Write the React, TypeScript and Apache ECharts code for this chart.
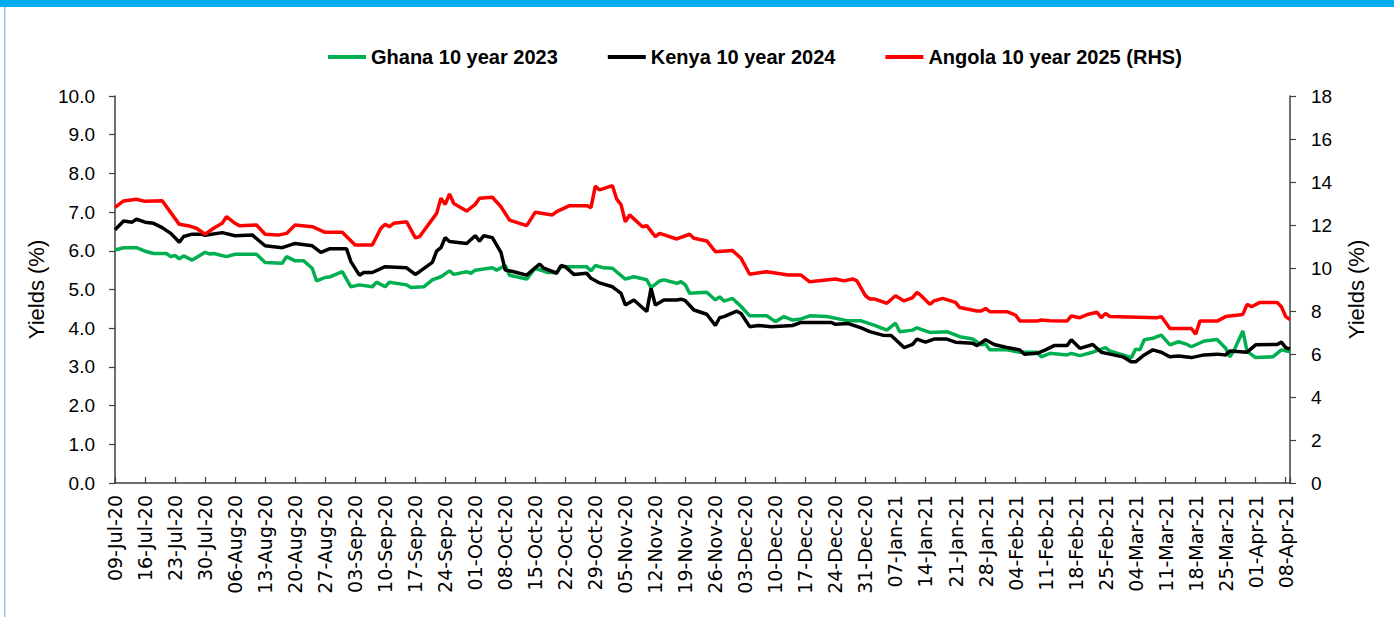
import React, { useEffect, useRef } from "react";
import * as echarts from "echarts";

const START = "2020-07-09";
const AXIS_DAYS = 274;
const MONTHS = ["Jan", "Feb", "Mar", "Apr", "May", "Jun", "Jul", "Aug", "Sep", "Oct", "Nov", "Dec"];

const legendNames = ["Ghana 10 year 2023", "Kenya 10 year 2024", "Angola 10 year 2025 (RHS)"];
const leftTicks = { min: 0, max: 10, interval: 1 };
const rightTicks = { min: 0, max: 18, interval: 2 };

const ghana: [string, number][] = [
  ["2020-07-09", 6.02], ["2020-07-11", 6.08], ["2020-07-14", 6.08], ["2020-07-16", 5.99], ["2020-07-18", 5.93],
  ["2020-07-21", 5.93], ["2020-07-22", 5.85], ["2020-07-23", 5.88], ["2020-07-24", 5.79], ["2020-07-25", 5.87],
  ["2020-07-27", 5.76], ["2020-07-30", 5.96], ["2020-07-31", 5.92], ["2020-08-01", 5.93], ["2020-08-04", 5.85],
  ["2020-08-06", 5.91], ["2020-08-11", 5.91], ["2020-08-13", 5.70], ["2020-08-17", 5.68], ["2020-08-18", 5.85],
  ["2020-08-20", 5.74], ["2020-08-22", 5.74], ["2020-08-24", 5.55], ["2020-08-25", 5.22], ["2020-08-27", 5.31],
  ["2020-08-28", 5.32], ["2020-08-31", 5.46], ["2020-09-02", 5.07], ["2020-09-04", 5.12], ["2020-09-07", 5.07],
  ["2020-09-08", 5.19], ["2020-09-10", 5.07], ["2020-09-11", 5.19], ["2020-09-15", 5.12], ["2020-09-16", 5.05],
  ["2020-09-19", 5.07], ["2020-09-21", 5.25], ["2020-09-23", 5.33], ["2020-09-25", 5.48], ["2020-09-26", 5.39],
  ["2020-09-29", 5.46], ["2020-09-30", 5.42], ["2020-10-01", 5.50], ["2020-10-05", 5.56], ["2020-10-06", 5.50],
  ["2020-10-08", 5.62], ["2020-10-09", 5.37], ["2020-10-13", 5.27], ["2020-10-15", 5.55], ["2020-10-18", 5.44],
  ["2020-10-20", 5.44], ["2020-10-21", 5.59], ["2020-10-27", 5.59], ["2020-10-28", 5.48], ["2020-10-29", 5.62],
  ["2020-10-31", 5.56], ["2020-11-02", 5.55], ["2020-11-05", 5.27], ["2020-11-07", 5.33], ["2020-11-10", 5.25],
  ["2020-11-11", 5.05], ["2020-11-13", 5.22], ["2020-11-14", 5.25], ["2020-11-17", 5.16], ["2020-11-18", 5.20],
  ["2020-11-19", 5.12], ["2020-11-20", 4.90], ["2020-11-24", 4.93], ["2020-11-26", 4.73], ["2020-11-27", 4.81],
  ["2020-11-28", 4.70], ["2020-11-30", 4.77], ["2020-12-02", 4.56], ["2020-12-04", 4.32], ["2020-12-08", 4.32],
  ["2020-12-10", 4.17], ["2020-12-12", 4.30], ["2020-12-14", 4.21], ["2020-12-16", 4.24], ["2020-12-18", 4.32],
  ["2020-12-22", 4.30], ["2020-12-27", 4.19], ["2020-12-30", 4.19], ["2021-01-02", 4.08], ["2021-01-05", 3.95],
  ["2021-01-07", 4.13], ["2021-01-08", 3.91], ["2021-01-11", 3.95], ["2021-01-12", 4.01], ["2021-01-15", 3.89],
  ["2021-01-19", 3.91], ["2021-01-22", 3.78], ["2021-01-25", 3.72], ["2021-01-27", 3.57], ["2021-01-28", 3.59],
  ["2021-01-29", 3.44], ["2021-02-02", 3.44], ["2021-02-05", 3.38], ["2021-02-09", 3.38], ["2021-02-10", 3.26],
  ["2021-02-12", 3.35], ["2021-02-16", 3.31], ["2021-02-17", 3.35], ["2021-02-19", 3.29], ["2021-02-22", 3.38],
  ["2021-02-25", 3.50], ["2021-02-26", 3.41], ["2021-03-01", 3.31], ["2021-03-03", 3.24], ["2021-03-04", 3.46],
  ["2021-03-05", 3.44], ["2021-03-06", 3.70], ["2021-03-08", 3.74], ["2021-03-10", 3.82], ["2021-03-12", 3.57],
  ["2021-03-14", 3.65], ["2021-03-16", 3.58], ["2021-03-17", 3.52], ["2021-03-20", 3.67], ["2021-03-23", 3.71],
  ["2021-03-25", 3.48], ["2021-03-26", 3.26], ["2021-03-27", 3.44], ["2021-03-29", 3.93], ["2021-03-30", 3.40],
  ["2021-04-01", 3.24], ["2021-04-05", 3.26], ["2021-04-07", 3.44], ["2021-04-09", 3.39],
];

const kenya: [string, number][] = [
  ["2020-07-09", 6.54], ["2020-07-11", 6.77], ["2020-07-13", 6.74], ["2020-07-14", 6.82], ["2020-07-16", 6.74],
  ["2020-07-18", 6.71], ["2020-07-20", 6.60], ["2020-07-22", 6.45], ["2020-07-24", 6.22], ["2020-07-25", 6.37],
  ["2020-07-27", 6.43], ["2020-07-29", 6.43], ["2020-07-30", 6.40], ["2020-08-03", 6.47], ["2020-08-06", 6.39],
  ["2020-08-10", 6.41], ["2020-08-13", 6.13], ["2020-08-17", 6.08], ["2020-08-20", 6.19], ["2020-08-24", 6.13],
  ["2020-08-26", 5.96], ["2020-08-28", 6.05], ["2020-09-01", 6.05], ["2020-09-02", 5.72], ["2020-09-04", 5.37],
  ["2020-09-05", 5.44], ["2020-09-07", 5.44], ["2020-09-10", 5.59], ["2020-09-15", 5.56], ["2020-09-17", 5.39],
  ["2020-09-18", 5.46], ["2020-09-21", 5.70], ["2020-09-22", 5.99], ["2020-09-23", 6.08], ["2020-09-24", 6.34],
  ["2020-09-25", 6.24], ["2020-09-29", 6.19], ["2020-10-01", 6.39], ["2020-10-02", 6.25], ["2020-10-03", 6.39],
  ["2020-10-05", 6.34], ["2020-10-07", 5.96], ["2020-10-08", 5.50], ["2020-10-10", 5.46], ["2020-10-13", 5.37],
  ["2020-10-16", 5.66], ["2020-10-17", 5.55], ["2020-10-20", 5.42], ["2020-10-21", 5.62], ["2020-10-22", 5.59],
  ["2020-10-24", 5.39], ["2020-10-27", 5.42], ["2020-10-28", 5.29], ["2020-10-30", 5.17], ["2020-11-02", 5.07],
  ["2020-11-04", 4.90], ["2020-11-05", 4.60], ["2020-11-07", 4.73], ["2020-11-10", 4.43], ["2020-11-11", 5.03],
  ["2020-11-12", 4.60], ["2020-11-14", 4.73], ["2020-11-17", 4.73], ["2020-11-18", 4.75], ["2020-11-19", 4.71],
  ["2020-11-21", 4.47], ["2020-11-24", 4.36], ["2020-11-26", 4.07], ["2020-11-27", 4.27], ["2020-11-28", 4.30],
  ["2020-12-01", 4.44], ["2020-12-02", 4.38], ["2020-12-04", 4.04], ["2020-12-06", 4.07], ["2020-12-09", 4.04],
  ["2020-12-14", 4.07], ["2020-12-16", 4.15], ["2020-12-23", 4.15], ["2020-12-24", 4.10], ["2020-12-27", 4.12],
  ["2020-12-30", 4.01], ["2021-01-01", 3.91], ["2021-01-04", 3.82], ["2021-01-06", 3.81], ["2021-01-09", 3.50],
  ["2021-01-11", 3.58], ["2021-01-12", 3.72], ["2021-01-14", 3.64], ["2021-01-16", 3.72], ["2021-01-19", 3.72],
  ["2021-01-21", 3.64], ["2021-01-25", 3.61], ["2021-01-26", 3.55], ["2021-01-28", 3.70], ["2021-01-30", 3.58],
  ["2021-02-02", 3.50], ["2021-02-05", 3.44], ["2021-02-06", 3.33], ["2021-02-09", 3.35], ["2021-02-11", 3.44],
  ["2021-02-13", 3.55], ["2021-02-16", 3.55], ["2021-02-17", 3.70], ["2021-02-19", 3.48], ["2021-02-22", 3.58],
  ["2021-02-24", 3.38], ["2021-02-26", 3.33], ["2021-03-01", 3.26], ["2021-03-03", 3.13], ["2021-03-04", 3.13],
  ["2021-03-06", 3.31], ["2021-03-08", 3.44], ["2021-03-10", 3.38], ["2021-03-12", 3.26], ["2021-03-14", 3.28],
  ["2021-03-17", 3.24], ["2021-03-20", 3.31], ["2021-03-23", 3.33], ["2021-03-25", 3.31], ["2021-03-26", 3.41],
  ["2021-03-30", 3.38], ["2021-04-01", 3.57], ["2021-04-06", 3.58], ["2021-04-07", 3.64], ["2021-04-08", 3.50],
  ["2021-04-09", 3.46],
];

const angola: [string, number][] = [
  ["2020-07-09", 12.82], ["2020-07-11", 13.12], ["2020-07-14", 13.20], ["2020-07-16", 13.10], ["2020-07-20", 13.13],
  ["2020-07-24", 12.03], ["2020-07-26", 11.97], ["2020-07-28", 11.85], ["2020-07-30", 11.57], ["2020-08-01", 11.85],
  ["2020-08-03", 12.08], ["2020-08-04", 12.39], ["2020-08-06", 12.08], ["2020-08-07", 11.97], ["2020-08-11", 12.00],
  ["2020-08-13", 11.57], ["2020-08-16", 11.53], ["2020-08-18", 11.61], ["2020-08-20", 12.00], ["2020-08-24", 11.92],
  ["2020-08-27", 11.66], ["2020-08-31", 11.66], ["2020-09-03", 11.07], ["2020-09-07", 11.07], ["2020-09-09", 11.85],
  ["2020-09-10", 12.03], ["2020-09-11", 11.92], ["2020-09-12", 12.08], ["2020-09-15", 12.15], ["2020-09-17", 11.41],
  ["2020-09-18", 11.45], ["2020-09-22", 12.54], ["2020-09-23", 13.24], ["2020-09-24", 12.96], ["2020-09-25", 13.44],
  ["2020-09-26", 13.00], ["2020-09-29", 12.65], ["2020-10-01", 12.96], ["2020-10-02", 13.24], ["2020-10-05", 13.29],
  ["2020-10-07", 12.85], ["2020-10-09", 12.23], ["2020-10-13", 11.97], ["2020-10-15", 12.59], ["2020-10-19", 12.47],
  ["2020-10-20", 12.62], ["2020-10-23", 12.90], ["2020-10-27", 12.90], ["2020-10-28", 12.81], ["2020-10-29", 13.81],
  ["2020-10-30", 13.63], ["2020-11-02", 13.83], ["2020-11-03", 13.20], ["2020-11-04", 12.95], ["2020-11-05", 12.15],
  ["2020-11-06", 12.47], ["2020-11-09", 11.92], ["2020-11-10", 11.97], ["2020-11-12", 11.46], ["2020-11-13", 11.61],
  ["2020-11-17", 11.35], ["2020-11-20", 11.57], ["2020-11-21", 11.38], ["2020-11-24", 11.26], ["2020-11-26", 10.76],
  ["2020-11-30", 10.81], ["2020-12-02", 10.45], ["2020-12-04", 9.71], ["2020-12-08", 9.83], ["2020-12-13", 9.67],
  ["2020-12-16", 9.67], ["2020-12-18", 9.36], ["2020-12-24", 9.49], ["2020-12-26", 9.40], ["2020-12-28", 9.49],
  ["2020-12-29", 9.40], ["2020-12-31", 8.71], ["2021-01-01", 8.56], ["2021-01-02", 8.56], ["2021-01-05", 8.36],
  ["2021-01-07", 8.71], ["2021-01-09", 8.47], ["2021-01-11", 8.62], ["2021-01-12", 8.87], ["2021-01-13", 8.71],
  ["2021-01-15", 8.31], ["2021-01-16", 8.47], ["2021-01-18", 8.59], ["2021-01-21", 8.40], ["2021-01-22", 8.16],
  ["2021-01-26", 8.00], ["2021-01-27", 8.00], ["2021-01-28", 8.12], ["2021-01-29", 7.97], ["2021-02-02", 7.97],
  ["2021-02-04", 7.81], ["2021-02-05", 7.53], ["2021-02-09", 7.53], ["2021-02-10", 7.58], ["2021-02-12", 7.55],
  ["2021-02-16", 7.53], ["2021-02-17", 7.77], ["2021-02-19", 7.69], ["2021-02-21", 7.85], ["2021-02-23", 7.94],
  ["2021-02-24", 7.69], ["2021-02-25", 7.89], ["2021-02-26", 7.74], ["2021-03-09", 7.69], ["2021-03-10", 7.74],
  ["2021-03-12", 7.19], ["2021-03-17", 7.19], ["2021-03-18", 6.92], ["2021-03-19", 7.53], ["2021-03-23", 7.53],
  ["2021-03-25", 7.74], ["2021-03-29", 7.84], ["2021-03-30", 8.31], ["2021-03-31", 8.20], ["2021-04-02", 8.40],
  ["2021-04-06", 8.40], ["2021-04-07", 8.20], ["2021-04-08", 7.74], ["2021-04-09", 7.60],
];

const DAY_MS = 86400000;
const startMs = Date.parse(START + "T00:00:00Z");
const toDay = (d: string) => Math.round((Date.parse(d + "T00:00:00Z") - startMs) / DAY_MS);
const toPoints = (rows: [string, number][]) => rows.map(([d, v]) => [toDay(d), v]);
const dayLabel = (v: number) => {
  if (v % 7 !== 0 || v > AXIS_DAYS - 1) return "";
  const dt = new Date(startMs + v * DAY_MS);
  const dd = String(dt.getUTCDate()).padStart(2, "0");
  const yy = String(dt.getUTCFullYear()).slice(2);
  return `${dd}-${MONTHS[dt.getUTCMonth()]}-${yy}`;
};

const AXIS_COLOR = "#404040";
const LABEL_FONT = "'Liberation Sans', Arial, sans-serif";

export default function App() {
  const ref = useRef<HTMLDivElement>(null);
  useEffect(() => {
    if (!ref.current) return;
    const chart = echarts.init(ref.current, undefined, { renderer: "svg" });
    const lineSeries = (name: string, rows: [string, number][], color: string, yAxisIndex: number) => ({
      name,
      type: "line",
      yAxisIndex,
      data: toPoints(rows),
      showSymbol: false,
      symbol: "none",
      lineStyle: { color, width: 3.5 },
      itemStyle: { color },
    });
    chart.setOption({
      animation: false,
      backgroundColor: "#ffffff",
      graphic: [
        { type: "rect", shape: { x: 0, y: 0, width: 1394, height: 7 }, style: { fill: "#00AEEF" } },
        { type: "rect", shape: { x: 4, y: 7, width: 1.5, height: 610 }, style: { fill: "#9DC3E6" } },
      ],
      legend: {
        data: legendNames,
        top: 42,
        left: 323,
        icon: "rect",
        itemWidth: 38,
        itemHeight: 4,
        itemGap: 50,
        textStyle: { fontFamily: LABEL_FONT, fontWeight: "bold", fontSize: 20, color: "#000" },
      },
      grid: { left: 115, right: 104, top: 96, bottom: 134, containLabel: false },
      xAxis: {
        type: "value",
        min: 0,
        max: AXIS_DAYS,
        interval: 7,
        axisLine: { show: true, lineStyle: { color: AXIS_COLOR, width: 1.5 } },
        axisTick: { show: true, inside: true, length: 6, lineStyle: { color: AXIS_COLOR, width: 1.2 } },
        splitLine: { show: false },
        axisLabel: {
          rotate: 90,
          margin: 12,
          formatter: dayLabel,
          fontFamily: "'DejaVu Sans', sans-serif",
          fontSize: 19,
          color: "#000",
          showMinLabel: true,
          showMaxLabel: true,
        },
      },
      yAxis: [
        {
          type: "value",
          position: "left",
          ...leftTicks,
          name: "Yields (%)",
          nameLocation: "middle",
          nameGap: 68,
          nameTextStyle: { fontFamily: LABEL_FONT, fontSize: 22, color: "#000" },
          axisLine: { show: true, lineStyle: { color: AXIS_COLOR, width: 1.5 } },
          axisTick: { show: true, inside: false, length: 6, lineStyle: { color: AXIS_COLOR, width: 1.2 } },
          splitLine: { show: false },
          axisLabel: { margin: 20, formatter: (v: number) => v.toFixed(1), fontFamily: LABEL_FONT, fontSize: 19, color: "#000" },
        },
        {
          type: "value",
          position: "right",
          ...rightTicks,
          name: "Yields (%)",
          nameLocation: "middle",
          nameGap: 55,
          nameTextStyle: { fontFamily: LABEL_FONT, fontSize: 22, color: "#000" },
          axisLine: { show: true, lineStyle: { color: AXIS_COLOR, width: 1.5 } },
          axisTick: { show: true, inside: false, length: 6, lineStyle: { color: AXIS_COLOR, width: 1.2 } },
          splitLine: { show: false },
          axisLabel: { margin: 21, fontFamily: LABEL_FONT, fontSize: 19, color: "#000" },
        },
      ],
      series: [
        lineSeries(legendNames[0], ghana, "#00B050", 0),
        lineSeries(legendNames[1], kenya, "#000000", 0),
        lineSeries(legendNames[2], angola, "#FF0000", 1),
      ],
    });
    return () => chart.dispose();
  }, []);
  return (
    <div
      ref={ref}
      style={{ position: "absolute", left: 0, top: 0, width: 1394, height: 617, background: "#fff" }}
    />
  );
}
